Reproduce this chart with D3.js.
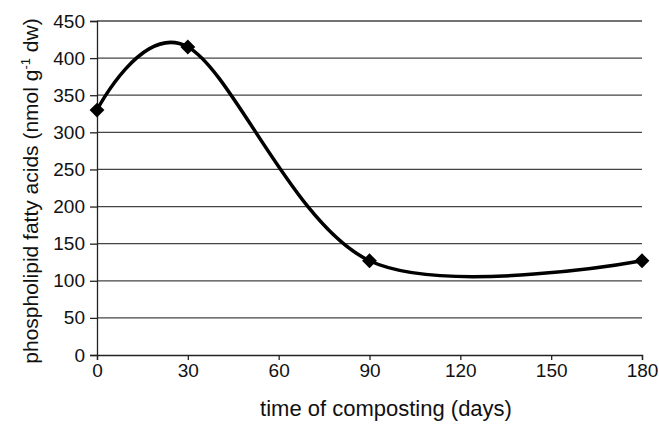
<!DOCTYPE html>
<html>
<head>
<meta charset="utf-8">
<script src="https://cdn.jsdelivr.net/npm/d3@7"></script>
<style>
  body { margin: 0; background: #fff; }
  text { font-family: "Liberation Sans", Arial, sans-serif; fill: #111; }
</style>
</head>
<body>
<svg id="chart" width="659" height="426"></svg>
<script>
// Data
var days = [0, 30, 90, 180];
var pfa = [330, 415, 127, 127];
var xTicks = [0, 30, 60, 90, 120, 150, 180];
var yTicks = [0, 50, 100, 150, 200, 250, 300, 350, 400, 450];

var svg = d3.select("#chart");
var margin = { left: 97, right: 17, top: 21, bottom: 71 };
var width = 659 - margin.left - margin.right;
var height = 426 - margin.top - margin.bottom;

var x = d3.scaleLinear().domain([0, 180]).range([0, width]);
var y = d3.scaleLinear().domain([0, 450]).range([height, 0]);

var g = svg.append("g").attr("transform", "translate(" + margin.left + "," + margin.top + ")");

// Gridlines
g.selectAll(".grid")
  .data(yTicks.filter((d) => d > 0))
  .enter()
  .append("line")
  .attr("x1", 0)
  .attr("x2", width)
  .attr("y1", (d) => y(d))
  .attr("y2", (d) => y(d))
  .attr("stroke", "#444")
  .attr("stroke-width", 1.3);

// Y axis
var yAxis = g.append("g").call(d3.axisLeft(y).tickValues(yTicks).tickSize(7).tickPadding(5));
yAxis.select(".domain").attr("stroke", "#222").attr("stroke-width", 1.3);
yAxis.selectAll(".tick line").attr("stroke", "#222").attr("stroke-width", 1.3);
yAxis.selectAll("text").style("font-size", "19px").attr("fill", "#111");

// X axis
var xAxis = g
  .append("g")
  .attr("transform", "translate(0," + height + ")")
  .call(d3.axisBottom(x).tickValues(xTicks).tickSize(5).tickPadding(4));
xAxis.select(".domain").attr("stroke", "#222").attr("stroke-width", 1.3);
xAxis.selectAll(".tick line").attr("stroke", "#222").attr("stroke-width", 1.3);
xAxis.selectAll("text").style("font-size", "19px").attr("fill", "#111");

// Smoothed line
var line = d3
  .line()
  .curve(d3.curveCardinal.tension(0))
  .x((d, i) => x(days[i]))
  .y((d) => y(d));

g.append("path")
  .datum(pfa)
  .attr("d", line)
  .attr("fill", "none")
  .attr("stroke", "#000")
  .attr("stroke-width", 3.5);

// Diamond markers
g.selectAll(".pt")
  .data(pfa)
  .enter()
  .append("path")
  .attr("d", d3.symbol().type(d3.symbolDiamond2).size(140))
  .attr("transform", (d, i) => "translate(" + x(days[i]) + "," + y(d) + ")")
  .attr("fill", "#000");

// Axis labels
svg.append("text")
  .attr("x", 386)
  .attr("y", 416)
  .attr("text-anchor", "middle")
  .style("font-size", "22px")
  .text("time of composting (days)");

var yl = svg.append("text")
  .attr("transform", "translate(38,191) rotate(-90)")
  .attr("text-anchor", "middle")
  .style("font-size", "21px");
yl.append("tspan").text("phospholipid fatty acids (nmol g");
yl.append("tspan").attr("dy", -8).style("font-size", "13px").text("-1");
yl.append("tspan").attr("dy", 8).text(" dw)");
</script>
</body>
</html>
